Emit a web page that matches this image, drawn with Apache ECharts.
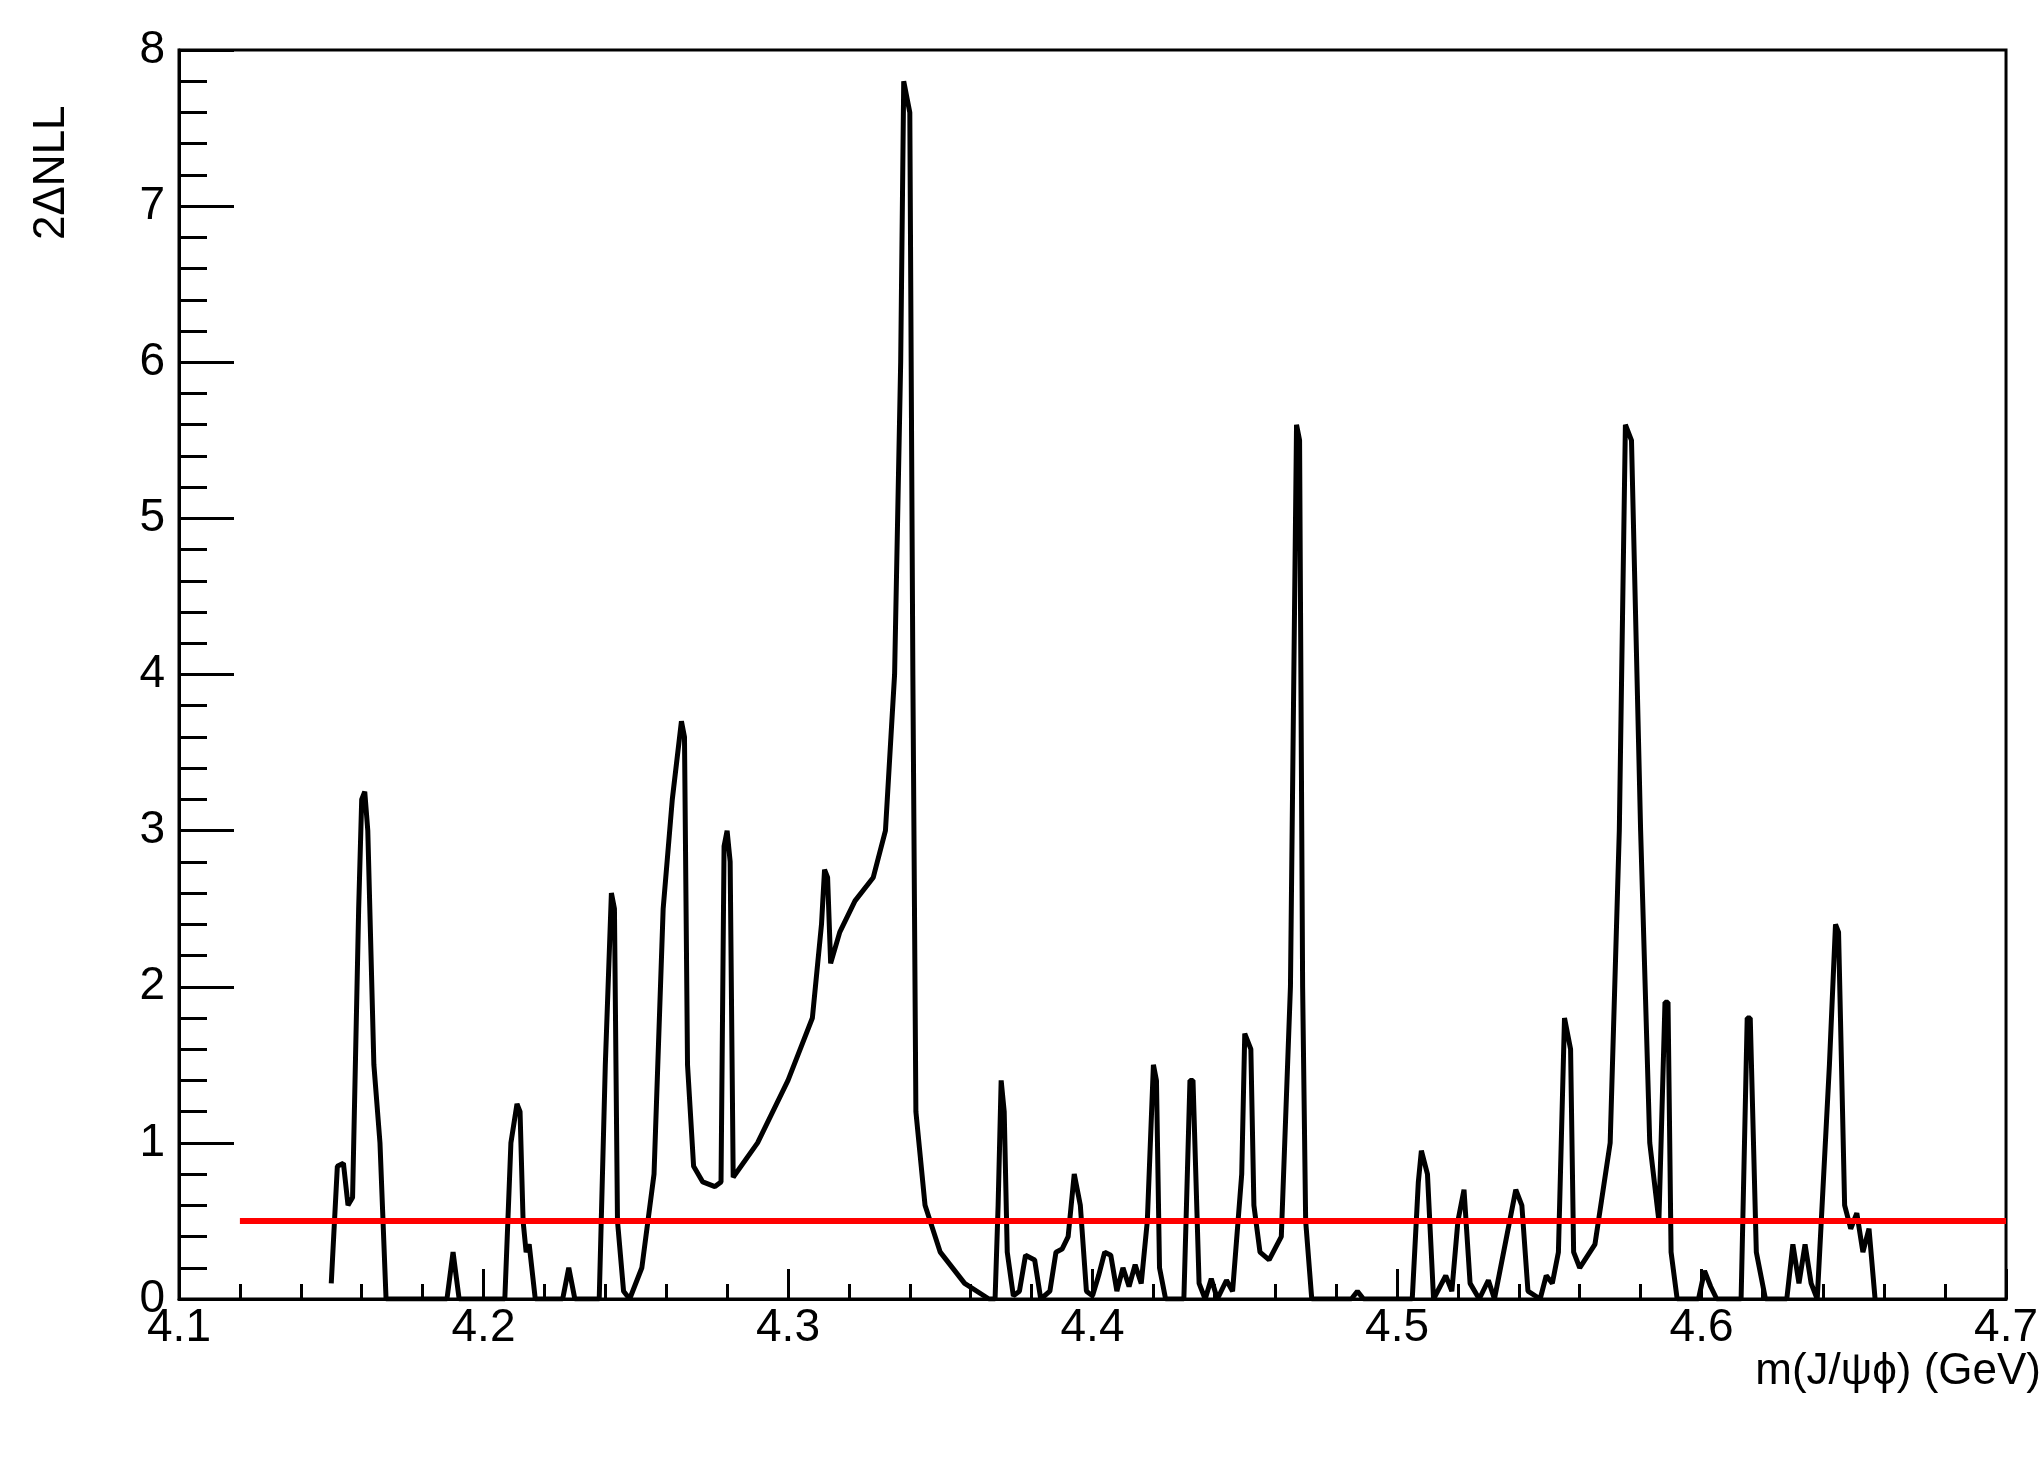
<!DOCTYPE html>
<html><head><meta charset="utf-8">
<script src="https://cdn.jsdelivr.net/npm/echarts@6/dist/echarts.min.js"></script>
<style>html,body{margin:0;background:#fff}#c{width:2041px;height:1463px}</style>
</head><body><div id="c"></div>
<script>
const massX = [4.150,4.152,4.154,4.1555,4.157,4.159,4.160,4.161,4.162,4.164,4.166,4.168,4.170,4.188,4.190,4.192,4.207,4.209,4.211,4.212,4.213,4.214,4.215,4.217,4.226,4.228,4.230,4.238,4.240,4.242,4.243,4.244,4.246,4.248,4.252,4.256,4.259,4.262,4.265,4.266,4.267,4.269,4.272,4.276,4.278,4.279,4.280,4.281,4.282,4.290,4.300,4.308,4.311,4.312,4.313,4.314,4.317,4.322,4.328,4.332,4.335,4.337,4.338,4.340,4.341,4.342,4.345,4.350,4.358,4.366,4.368,4.369,4.370,4.371,4.372,4.374,4.376,4.378,4.381,4.383,4.386,4.388,4.390,4.392,4.394,4.396,4.398,4.400,4.402,4.404,4.406,4.408,4.410,4.412,4.414,4.416,4.418,4.420,4.421,4.422,4.424,4.430,4.432,4.433,4.435,4.437,4.439,4.441,4.444,4.446,4.449,4.450,4.452,4.453,4.455,4.458,4.462,4.465,4.467,4.468,4.469,4.470,4.472,4.485,4.487,4.489,4.505,4.507,4.508,4.510,4.512,4.516,4.518,4.520,4.522,4.524,4.527,4.530,4.532,4.537,4.539,4.541,4.543,4.547,4.549,4.551,4.553,4.555,4.557,4.558,4.560,4.565,4.570,4.573,4.575,4.577,4.580,4.583,4.586,4.588,4.589,4.590,4.592,4.599,4.601,4.603,4.605,4.613,4.615,4.616,4.618,4.621,4.628,4.630,4.632,4.634,4.636,4.638,4.642,4.644,4.645,4.647,4.649,4.651,4.653,4.655,4.657];
const nllY = [0.1,0.85,0.87,0.6,0.65,2.5,3.2,3.25,3.0,1.5,1.0,0.0,0,0,0.3,0,0,1.0,1.25,1.2,0.5,0.3,0.35,0,0,0.2,0,0,1.5,2.6,2.5,0.5,0.05,0,0.2,0.8,2.5,3.2,3.7,3.6,1.5,0.85,0.75,0.72,0.75,2.9,3.0,2.8,0.78,1.0,1.4,1.8,2.4,2.75,2.7,2.15,2.35,2.55,2.7,3.0,4.0,6.0,7.8,7.6,4,1.2,0.6,0.3,0.1,0.0,0,0.6,1.4,1.2,0.3,0.02,0.05,0.28,0.25,0,0.05,0.3,0.32,0.4,0.8,0.6,0.05,0.02,0.15,0.3,0.28,0.05,0.2,0.08,0.22,0.1,0.5,1.5,1.4,0.2,0,0,1.4,1.4,0.1,0.0,0.13,0,0.12,0.05,0.8,1.7,1.6,0.6,0.3,0.25,0.4,2,5.6,5.5,2,0.5,0,0,0.05,0,0,0.75,0.95,0.8,0,0.15,0.05,0.5,0.7,0.1,0,0.12,0,0.5,0.7,0.6,0.05,0.0,0.15,0.1,0.3,1.8,1.6,0.3,0.2,0.35,1.0,3,5.6,5.5,3,1,0.5,1.9,1.9,0.3,0,0,0.18,0.08,0,0,1.8,1.8,0.3,0,0,0.35,0.1,0.35,0.1,0,1.5,2.4,2.35,0.6,0.45,0.55,0.3,0.45,0.0];
const thrX = [4.12, 4.70];
const thrY = [0.5, 0.5];
const xTicks = [4.1,4.2,4.3,4.4,4.5,4.6,4.7];

const ch = echarts.init(document.getElementById('c'));
const F = 'Liberation Sans, Arial, sans-serif';
ch.setOption({
  animation:false,
  grid:{left:179,right:26,top:50,bottom:164,show:true,borderColor:'#000',borderWidth:3,backgroundColor:'transparent'},
  xAxis:{type:'value',min:4.1,max:4.7,interval:0.1,
    axisLine:{show:true,onZero:false,lineStyle:{color:'#000',width:3}},
    axisTick:{inside:true,length:30,lineStyle:{color:'#000',width:3}},
    minorTick:{show:true,splitNumber:5,length:15,lineStyle:{color:'#000',width:3}},
    splitLine:{show:false},
    axisLabel:{color:'#000',fontSize:46,fontFamily:F,margin:6,formatter:v=>{const t=xTicks.find(a=>Math.abs(a-v)<1e-6);return t===undefined?'':t.toFixed(1);}}},
  yAxis:{type:'value',min:0,max:8,interval:1,
    axisLine:{show:true,lineStyle:{color:'#000',width:3}},
    axisTick:{inside:true,length:55,lineStyle:{color:'#000',width:3}},
    minorTick:{show:true,splitNumber:5,length:28,lineStyle:{color:'#000',width:3}},
    splitLine:{show:false},
    axisLabel:{color:'#000',fontSize:46,fontFamily:F,margin:14}},
  graphic:[
    {type:'text',left:'right',right:26,top:1350,style:{text:'m(J/\u03c8\u03d5) (GeV)',font:'44px '+F,fill:'#000'}},
    {type:'text',x:30,y:240,rotation:Math.PI/2,style:{text:'2\u0394NLL',font:'44px '+F,fill:'#000'}}
  ],
  series:[
    {type:'line',data:massX.map((x,i)=>[x,nllY[i]]),showSymbol:false,lineStyle:{color:'#000',width:5},z:3},
    {type:'line',data:thrX.map((x,i)=>[x,thrY[i]]),showSymbol:false,lineStyle:{color:'#ff0000',width:6},z:4}
  ]
});
</script></body></html>
